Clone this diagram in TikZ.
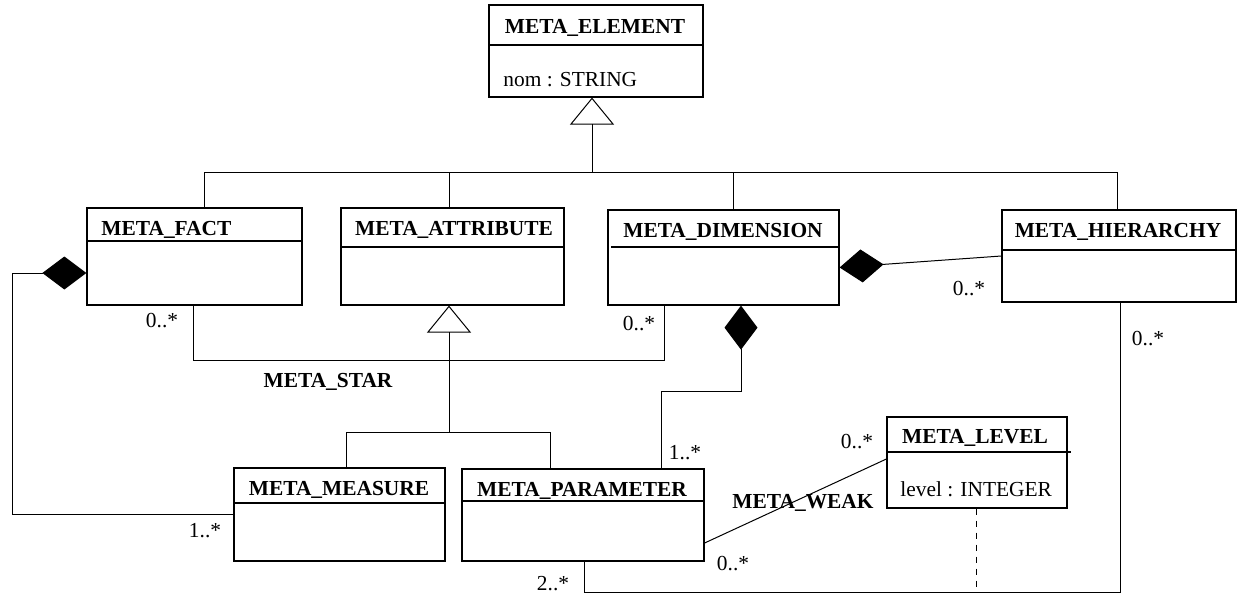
\documentclass[tikz,border=0pt]{standalone}
\usepackage{fontspec}
\setmainfont{Liberation Serif}
\usetikzlibrary{arrows.meta}

\begin{document}
\begin{tikzpicture}[x=0.5pt, y=-0.5pt, font=\fontsize{10.7}{12}\selectfont,
    box/.style={draw, line width=0.6pt, inner sep=0pt},
    hdr/.style={line width=1pt},
    assoc/.style={line width=0.5pt},
    gen/.style={assoc, -{Triangle[open, length=13.5pt, width=22pt]}},
    comp/.style={assoc, -{Diamond[length=22pt, width=16.5pt]}},
    clsname/.style={font=\fontsize{10.7}{12}\selectfont\bfseries, anchor=base, inner sep=0pt},
    attrtxt/.style={anchor=base west, inner sep=0pt},
    multtxt/.style={anchor=base, inner sep=0pt}]
  \useasboundingbox (0,0) rectangle (1237,594);
  % classes
  \node[box, minimum width=107pt, minimum height=46pt] (elem) at (596,51) {};
  \draw[hdr] ([yshift=-20.5pt]elem.north west) -- ([yshift=-20.5pt]elem.north east);
  \node[clsname] (elemT) at (595,33) {META\_ELEMENT};
  \node[attrtxt] (elemA) at (503,86) {nom : STRING};

  \node[box, minimum width=107.5pt, minimum height=48.5pt] (fact) at (194.5,256.5) {};
  \draw[hdr] ([yshift=-17pt]fact.north west) -- ([yshift=-17pt]fact.north east);
  \node[clsname, anchor=base west] (factT) at (101,235) {META\_FACT};

  \node[box, minimum width=111.5pt, minimum height=48.5pt] (attrib) at (452.5,256.5) {};
  \draw[hdr] ([yshift=-20pt]attrib.north west) -- ([yshift=-20pt]attrib.north east);
  \node[clsname] (attribT) at (454,235) {META\_ATTRIBUTE};

  \node[box, minimum width=115.5pt, minimum height=47.5pt] (dim) at (723.5,257.5) {};
  \draw[hdr] ([xshift=2pt, yshift=-19pt]dim.north west) -- ([yshift=-19pt]dim.north east);
  \node[clsname] (dimT) at (723,237) {META\_DIMENSION};

  \node[box, minimum width=117pt, minimum height=46pt] (hier) at (1119,256) {};
  \draw[hdr] ([yshift=-20.5pt]hier.north west) -- ([yshift=-20.5pt]hier.north east);
  \node[clsname] (hierT) at (1118,237) {META\_HIERARCHY};

  \node[box, minimum width=105.5pt, minimum height=46.5pt] (meas) at (339.5,514.5) {};
  \draw[hdr] ([yshift=-18pt]meas.north west) -- ([yshift=-18pt]meas.north east);
  \node[clsname] (measT) at (339,495) {META\_MEASURE};

  \node[box, minimum width=121pt, minimum height=46pt] (param) at (583,515) {};
  \draw[hdr] ([yshift=-16.5pt]param.north west) -- ([yshift=-16.5pt]param.north east);
  \node[clsname] (paramT) at (582,496) {META\_PARAMETER};

  \node[box, minimum width=90pt, minimum height=45.5pt] (level) at (977,462.5) {};
  \draw[hdr] ([yshift=-18pt]level.north west) -- ([xshift=1.5pt, yshift=-18pt]level.north east);
  \node[clsname] (levelT) at (975,443) {META\_LEVEL};
  \node[attrtxt] (levelA) at (900,496) {level : INTEGER};

  % generalisation of META_ELEMENT
  \coordinate (tA) at (204,172);
  \coordinate (tB) at (449,172);
  \coordinate (tC) at (733,172);
  \coordinate (tD) at (1117,172);
  \coordinate (tE) at (592,172);
  \draw[assoc] (tA) -- (tD);
  \foreach \c/\n in {tA/fact, tB/attrib, tC/dim, tD/hier}
    \draw[assoc] (\c) -- (\c |- \n.north);
  \draw[gen] (tE) -- (tE |- elem.south);

  % generalisation of META_ATTRIBUTE
  \coordinate (sA) at (346,432);
  \coordinate (sB) at (550,432);
  \coordinate (sE) at (449,432);
  \draw[assoc] (sA |- meas.north) -- (sA) -- (sB) -- (sB |- param.north);
  \draw[gen] (sE) -- (sE |- attrib.south);

  % compositions
  \coordinate (fmLow) at (12,514);
  \coordinate (fmHigh) at (12,273);
  \draw[comp] (fmLow -| meas.west) -- (fmLow) -- (fmHigh) -- (fmHigh -| fact.west);
  \draw[comp] (hier.west) -- ([yshift=-5pt]dim.east);
  \coordinate (dpBend) at (661,391);
  \coordinate (dpTop) at (741,391);
  \draw[comp] (dpBend |- param.north) -- (dpBend) -- (dpTop) -- (dpTop |- dim.south);

  % META_STAR
  \coordinate (starL) at (193,360);
  \coordinate (starR) at (664,360);
  \draw[assoc] (starL |- fact.south) -- (starL) -- (starR) -- (starR |- dim.south);
  \node[clsname] (starT) at (328,387) {META\_STAR};

  % META_WEAK
  \draw[assoc] ([yshift=-14pt]param.east) -- ([yshift=1.75pt]level.west);
  \node[clsname] (weakT) at (803,508) {META\_WEAK};

  % hierarchy to parameter, level
  \coordinate (hpR) at (1120,592);
  \coordinate (hpL) at (584,592);
  \coordinate (lvD) at (976,592);
  \draw[assoc] (hpR |- hier.south) -- (hpR) -- (hpL) -- (hpL |- param.south);
  \draw[assoc, dashed] (lvD |- level.south) -- (lvD);

  % multiplicities
  \node[multtxt] (m1) at (162,327) {0..*};
  \node[multtxt] (m2) at (639,330) {0..*};
  \node[multtxt] (m3) at (969,295) {0..*};
  \node[multtxt] (m4) at (1148,345) {0..*};
  \node[multtxt] (m5) at (205,537) {1..*};
  \node[multtxt] (m6) at (553,590) {2..*};
  \node[multtxt] (m7) at (685,459) {1..*};
  \node[multtxt] (m8) at (857,448) {0..*};
  \node[multtxt] (m9) at (733,570) {0..*};
\end{tikzpicture}
\end{document}
